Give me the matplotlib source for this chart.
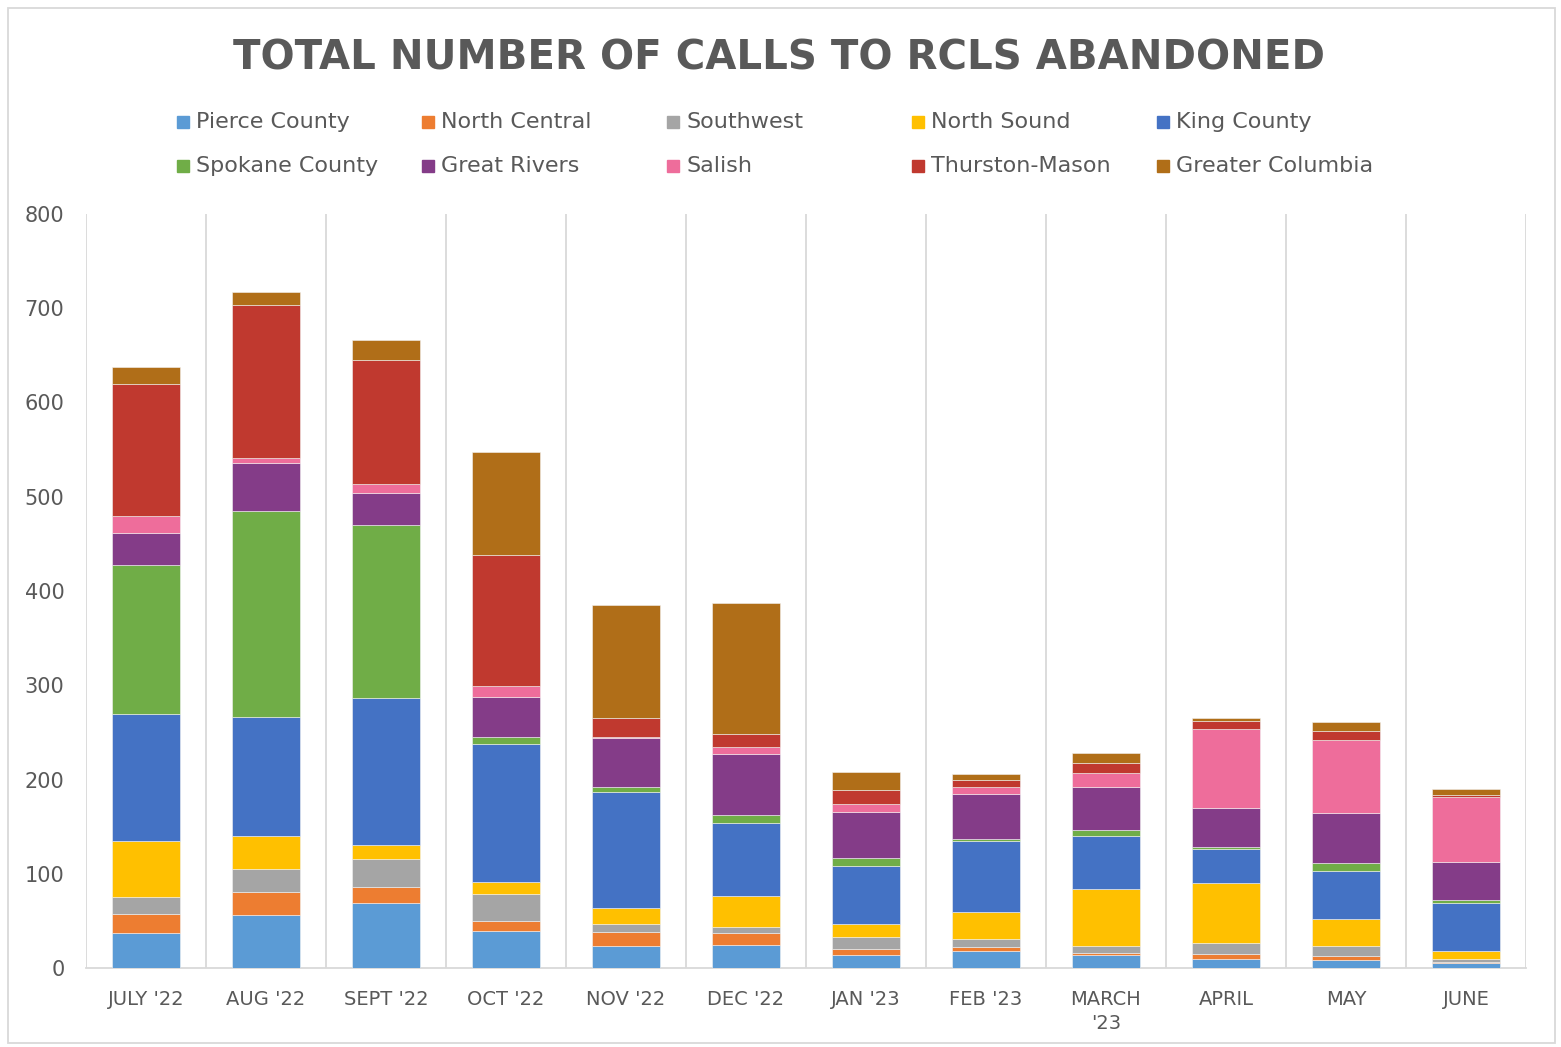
import matplotlib
matplotlib.use("Agg")
import matplotlib.pyplot as plt
from matplotlib.patches import Rectangle
import numpy as np

# ---------------------------------------------------------
# Données
# ---------------------------------------------------------
months = ["JULY '22", "AUG '22", "SEPT '22", "OCT '22", "NOV '22", "DEC '22",
          "JAN '23", "FEB '23", "MARCH\n'23", "APRIL", "MAY", "JUNE"]

regions = ["Pierce County", "North Central", "Southwest", "North Sound", "King County",
           "Spokane County", "Great Rivers", "Salish", "Thurston-Mason", "Greater Columbia"]

pierce = [37, 56, 69, 39, 23, 24, 14, 18, 14, 10, 9, 5]
north_central = [20, 25, 17, 11, 15, 13, 6, 4, 2, 5, 4, 1]
southwest = [18, 24, 30, 28, 9, 7, 13, 9, 7, 12, 10, 4]
north_sound = [60, 35, 15, 13, 17, 32, 14, 28, 61, 63, 29, 8]
king = [135, 126, 155, 147, 123, 78, 61, 76, 56, 36, 51, 51]
spokane = [158, 219, 184, 7, 5, 8, 9, 2, 6, 2, 8, 3]
great_rivers = [34, 51, 34, 43, 52, 65, 49, 48, 46, 42, 53, 40]
salish = [18, 5, 9, 11, 1, 7, 8, 7, 15, 84, 78, 69]
thurston_mason = [140, 162, 132, 139, 20, 14, 15, 8, 11, 8, 9, 3]
greater_columbia = [18, 14, 21, 110, 120, 139, 19, 6, 10, 3, 10, 6]

series = [pierce, north_central, southwest, north_sound, king,
          spokane, great_rivers, salish, thurston_mason, greater_columbia]

colors = ["#5B9BD5", "#ED7D31", "#A5A5A5", "#FFC000", "#4472C4",
          "#70AD47", "#843C88", "#EE6D9B", "#C0392F", "#B06E18"]

text_color = "#595959"
grid_color = "#D9D9D9"

# ---------------------------------------------------------
# Figure
# ---------------------------------------------------------
fig = plt.figure(figsize=(15.61, 10.47), dpi=100)
ax = fig.add_axes([86 / 1561, 1 - 968 / 1047, 1440 / 1561, 754 / 1047])

x = np.arange(len(months))
bottom = np.zeros(len(months))
for vals, col, name in zip(series, colors, regions):
    ax.bar(x, vals, width=0.56, bottom=bottom, color=col, label=name,
           edgecolor="#F2F2F2", linewidth=0.4, zorder=3)
    bottom += np.array(vals)

# Grille verticale entre catégories
for xv in np.arange(-0.5, len(months), 1):
    ax.axvline(xv, color=grid_color, linewidth=1.3, zorder=1)

ax.set_xlim(-0.5, len(months) - 0.5)
ax.set_ylim(0, 800)
ax.set_yticks(range(0, 801, 100))
ax.set_xticks(x)
ax.set_xticklabels(months, fontsize=14, color=text_color, linespacing=1.3)
ax.tick_params(axis="y", length=0, labelsize=15, labelcolor=text_color, pad=15.5)
ax.tick_params(axis="x", length=0, pad=16)

for s in ["top", "right", "left"]:
    ax.spines[s].set_visible(False)
ax.spines["bottom"].set_color(grid_color)
ax.spines["bottom"].set_linewidth(1.3)

# Titre
fig.text(0.499, 1 - 58 / 1047, "TOTAL NUMBER OF CALLS TO RCLS ABANDONED",
         ha="center", va="center", fontsize=29, fontweight="bold", color=text_color)

# Légende (5 colonnes x 2 lignes, positions fixes comme Excel)
col_x = [178, 423, 668, 913, 1158]
row_y = [122, 166]
for i, (name, col) in enumerate(zip(regions, colors)):
    px = col_x[i % 5]
    py = row_y[i // 5]
    fig.add_artist(Rectangle(((px - 1) / 1561, 1 - (py + 6) / 1047), 12 / 1561, 12 / 1047,
                             transform=fig.transFigure, color=col))
    fig.text((px + 18) / 1561, 1 - py / 1047, name, ha="left", va="center",
             fontsize=16, color=text_color)

# Cadre extérieur
fig.add_artist(Rectangle((8 / 1561, 4 / 1047), 1547 / 1561, 1035 / 1047,
                         transform=fig.transFigure, fill=False,
                         edgecolor=grid_color, linewidth=1.3))

fig.savefig("out.png", dpi=100, facecolor="white")
